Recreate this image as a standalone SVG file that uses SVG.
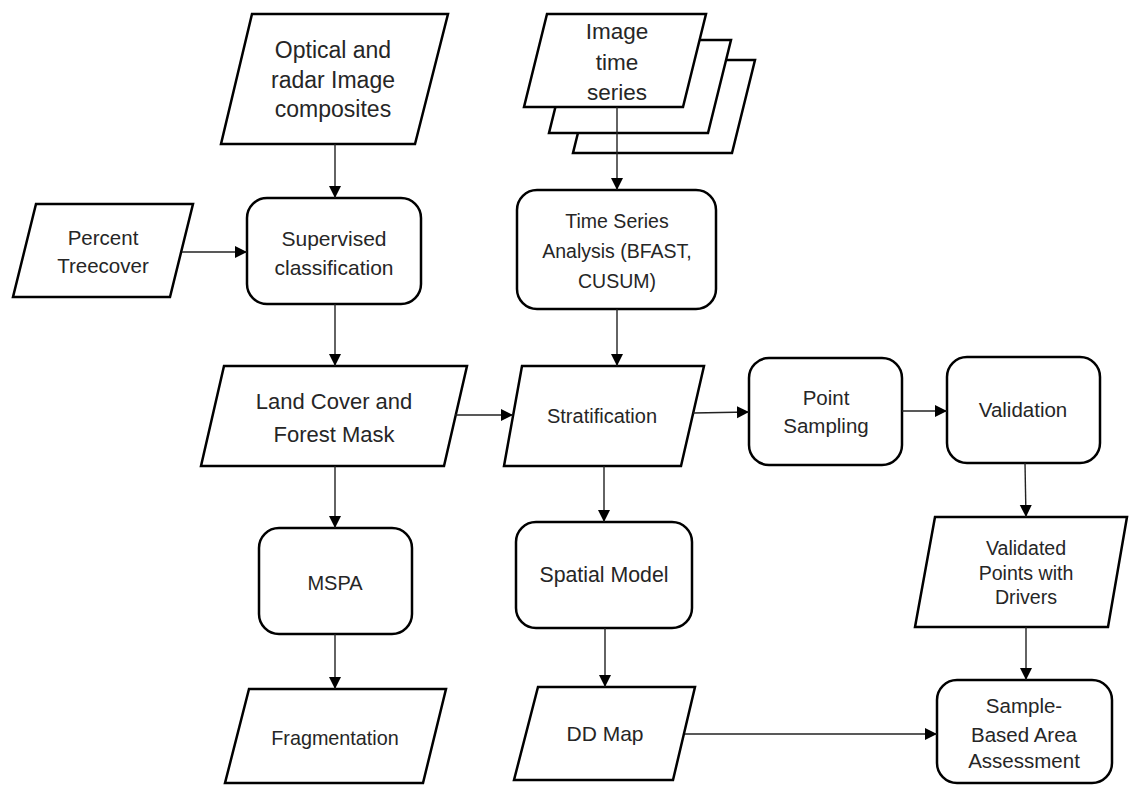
<svg xmlns="http://www.w3.org/2000/svg" width="1129" height="785" viewBox="0 0 1129 785">
<style>
.shape{fill:#fff;stroke:#000;stroke-width:2.5;stroke-linejoin:miter}
.conn{fill:none;stroke:#222;stroke-width:1.4}
text{font-family:"Liberation Sans",Arial,sans-serif;fill:#262626;text-anchor:middle}
</style>
<defs>
<marker id="arr" markerUnits="userSpaceOnUse" markerWidth="13" markerHeight="13" refX="12" refY="6" orient="auto">
<path d="M0,0 L12,6 L0,12 z" fill="#000"/>
</marker>
</defs>
<rect width="1129" height="785" fill="#fff"/>

<g id="optical">
<polygon class="shape" points="252,14 448,14 415,144 221,144"/>
<text font-size="23" x="333" y="58">Optical and</text>
<text font-size="23" x="333" y="88">radar Image</text>
<text font-size="23" x="333" y="117">composites</text>
</g>

<g id="image-time-series">
<polygon class="shape" points="596,60 755,60 732,153 573,153"/>
<polygon class="shape" points="572,40 731,40 708,133 549,133"/>
<polygon class="shape" points="547,14 706,14 683,107 524,107"/>
<text font-size="22.5" x="617" y="39">Image</text>
<text font-size="22.5" x="617" y="70">time</text>
<text font-size="22.5" x="617" y="100">series</text>
</g>

<g id="percent-treecover">
<polygon class="shape" points="36,204 193,204 170,297 13,297"/>
<text font-size="20.5" x="103" y="245">Percent</text>
<text font-size="20.5" x="103" y="273">Treecover</text>
</g>

<g id="supervised">
<rect class="shape" x="247" y="198" width="174" height="106" rx="20"/>
<text font-size="21" x="334" y="246">Supervised</text>
<text font-size="21" x="334" y="275">classification</text>
</g>

<g id="time-series-analysis">
<rect class="shape" x="517" y="190" width="199" height="119" rx="20"/>
<text font-size="19.5" x="617" y="228">Time Series</text>
<text font-size="19.5" x="617" y="258">Analysis (BFAST,</text>
<text font-size="19.5" x="617" y="288">CUSUM)</text>
</g>

<g id="land-cover">
<polygon class="shape" points="224,366 467,366 444,466 201,466"/>
<text font-size="22" x="334" y="409">Land Cover and</text>
<text font-size="22" x="334" y="442">Forest Mask</text>
</g>

<g id="stratification">
<polygon class="shape" points="522,366 704,366 681,466 504,466"/>
<text font-size="20" x="602" y="423">Stratification</text>
</g>

<g id="point-sampling">
<rect class="shape" x="749" y="358" width="153" height="107" rx="20"/>
<text font-size="20.5" x="826" y="405">Point</text>
<text font-size="20.5" x="826" y="433">Sampling</text>
</g>

<g id="validation">
<rect class="shape" x="947" y="357" width="153" height="106" rx="20"/>
<text font-size="20.5" x="1023" y="417">Validation</text>
</g>

<g id="mspa">
<rect class="shape" x="259" y="528" width="153" height="106" rx="20"/>
<text font-size="20" x="335" y="590">MSPA</text>
</g>

<g id="spatial-model">
<rect class="shape" x="516" y="522" width="176" height="106" rx="20"/>
<text font-size="21.3" x="604" y="582">Spatial Model</text>
</g>

<g id="validated-points">
<polygon class="shape" points="935,517 1127,517 1108,627 915,627"/>
<text font-size="19.6" x="1026" y="555">Validated</text>
<text font-size="19.6" x="1026" y="580">Points with</text>
<text font-size="19.6" x="1026" y="604">Drivers</text>
</g>

<g id="fragmentation">
<polygon class="shape" points="249,689 446,689 423,783 225,783"/>
<text font-size="19.8" x="335" y="745">Fragmentation</text>
</g>

<g id="dd-map">
<polygon class="shape" points="538,687 695,687 673,780 514,780"/>
<text font-size="21" x="605" y="741">DD Map</text>
</g>

<g id="sample-based">
<rect class="shape" x="937" y="680" width="175" height="103" rx="20"/>
<text font-size="20.5" x="1024" y="713">Sample-</text>
<text font-size="20.5" x="1024" y="742">Based Area</text>
<text font-size="20.5" x="1024" y="768">Assessment</text>
</g>

<g id="connectors">
<line class="conn" x1="335" y1="144" x2="335" y2="198" marker-end="url(#arr)"/>
<line class="conn" x1="182" y1="252" x2="247" y2="252" marker-end="url(#arr)"/>
<line class="conn" x1="335" y1="304" x2="335" y2="366" marker-end="url(#arr)"/>
<line class="conn" x1="617" y1="107" x2="617" y2="190" marker-end="url(#arr)"/>
<line class="conn" x1="617" y1="309" x2="617" y2="366" marker-end="url(#arr)"/>
<line class="conn" x1="455" y1="415" x2="513" y2="415" marker-end="url(#arr)"/>
<line class="conn" x1="693" y1="413" x2="749" y2="412" marker-end="url(#arr)"/>
<line class="conn" x1="902" y1="411" x2="947" y2="411" marker-end="url(#arr)"/>
<line class="conn" x1="604" y1="466" x2="604" y2="522" marker-end="url(#arr)"/>
<line class="conn" x1="335" y1="466" x2="335" y2="528" marker-end="url(#arr)"/>
<line class="conn" x1="335" y1="634" x2="335" y2="689" marker-end="url(#arr)"/>
<line class="conn" x1="605" y1="628" x2="605" y2="687" marker-end="url(#arr)"/>
<line class="conn" x1="1025" y1="463" x2="1026" y2="517" marker-end="url(#arr)"/>
<line class="conn" x1="1026" y1="627" x2="1026" y2="680" marker-end="url(#arr)"/>
<line class="conn" x1="685" y1="734" x2="937" y2="734" marker-end="url(#arr)"/>
</g>
</svg>
